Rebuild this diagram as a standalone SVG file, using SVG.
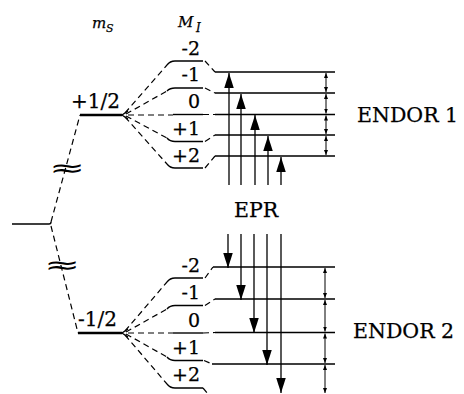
<svg xmlns="http://www.w3.org/2000/svg" width="464" height="394" viewBox="0 0 464 394">
<style>
.lv{stroke:#000;stroke-width:1.4;fill:none}
.th{stroke:#000;stroke-width:2.4;fill:none}
.ds{stroke:#000;stroke-width:1.2;stroke-dasharray:6 4;fill:none}
.ar{stroke:#000;stroke-width:1.3;fill:none}
.dbl{stroke:#000;stroke-width:1;fill:none}
text{font-family:"DejaVu Serif","Liberation Serif",serif;fill:#000;stroke:#000;stroke-width:0.25}
.lab{font-size:19px;text-anchor:end}
.big{font-size:20.5px}
.wave{font-family:"DejaVu Sans",sans-serif;font-size:24px;text-anchor:middle;stroke-width:0}
</style>
<defs>
<marker id="head" markerUnits="userSpaceOnUse" markerWidth="16" markerHeight="10" refX="15" refY="4.75" orient="auto">
<path d="M0,0 L15,4.75 L0,9.5 z" fill="#000"/>
</marker>
<marker id="sm" markerUnits="userSpaceOnUse" markerWidth="6" markerHeight="5" refX="5" refY="2" orient="auto-start-reverse">
<path d="M0,0 L5,2 L0,4 z" fill="#000"/>
</marker>
</defs>

<g id="axis-labels">
<text x="92" y="28" font-size="15" font-style="italic">m</text>
<text x="106" y="32" font-size="11" font-style="italic">S</text>
<text x="178" y="27" font-size="15" font-style="italic">M</text>
<text x="196" y="32" font-size="12" font-style="italic">I</text>
</g>

<g id="origin">
<path class="lv" d="M12,224 L49,224 Q51,224 51,222"/>
</g>

<g id="ms-up">
<text x="71" y="108" font-size="20">+1/2</text>
<path class="th" d="M80,115 L122,115"/>
<path class="lv" d="M128,111 L122,115 L128,119"/>
</g>

<g id="ms-down">
<text x="78" y="326" font-size="20">-1/2</text>
<path class="th" d="M78,333 L122,333"/>
<path class="lv" d="M128,329 L122,333 L128,337"/>
</g>

<g id="connectors">
<path class="ds" d="M51,222 L80,115"/>
<path class="ds" d="M51,226 L78,333"/>
<path class="ds" d="M125,113 L167,65"/>
<path class="ds" d="M126,114 L167,91"/>
<path class="ds" d="M128,115 L173,115"/>
<path class="ds" d="M126,116 L167,138"/>
<path class="ds" d="M125,117 L167,164"/>
<path class="ds" d="M205,61 L215,72"/>
<path class="ds" d="M205,88 L215,93"/>
<path class="ds" d="M203,114.5 L215,114.5"/>
<path class="ds" d="M205,141.5 L215,135"/>
<path class="ds" d="M205,168 L215,156"/>
<path class="ds" d="M125,331 L167,282"/>
<path class="ds" d="M126,332 L167,309"/>
<path class="ds" d="M128,333 L173,333"/>
<path class="ds" d="M126,334 L167,357"/>
<path class="ds" d="M125,335 L167,384"/>
<path class="ds" d="M205,278 L213,267"/>
<path class="ds" d="M205,305.5 L215,299"/>
<path class="ds" d="M203,333 L215,332.5"/>
<path class="ds" d="M204,360.5 L212,364"/>
<path class="ds" d="M203,388 L208,394"/>
</g>

<g id="waves">
<text class="wave" transform="translate(67,176) scale(1.8,1)">≈</text>
<text class="wave" transform="translate(62,273) scale(1.8,1)">≈</text>
</g>

<g id="MI-up">
<text class="lab" x="200" y="55">-2</text>
<path class="lv" d="M167,65 Q170,61 175,61 L203,61"/>
<text class="lab" x="200" y="81">-1</text>
<path class="lv" d="M167,91 Q170,88 175,88 L203,88"/>
<text class="lab" x="200" y="108">0</text>
<path class="lv" d="M173,114.5 L203,114.5"/>
<text class="lab" x="200" y="135">+1</text>
<path class="lv" d="M167,138 Q170,141.5 175,141.5 L203,141.5"/>
<text class="lab" x="200" y="162">+2</text>
<path class="lv" d="M167,164 Q170,168 175,168 L203,168"/>
<path class="lv" d="M215,72 L335,72 M215,93 L335,93 M215,114.5 L335,114.5 M215,135 L335,135 M215,156 L335,156"/>
</g>

<g id="MI-down">
<text class="lab" x="200" y="272">-2</text>
<path class="lv" d="M167,282 Q170,278 175,278 L203,278"/>
<text class="lab" x="200" y="299">-1</text>
<path class="lv" d="M167,309 Q170,305.5 175,305.5 L203,305.5"/>
<text class="lab" x="200" y="327">0</text>
<path class="lv" d="M173,333 L203,333"/>
<text class="lab" x="200" y="354">+1</text>
<path class="lv" d="M167,357 Q170,360.5 175,360.5 L203,360.5"/>
<text class="lab" x="200" y="381">+2</text>
<path class="lv" d="M167,384 Q170,388 175,388 L203,388"/>
<path class="lv" d="M213,267 L335,267 M215,299 L335,299 M215,332.5 L335,332.5 M212,364 L335,364"/>
</g>

<g id="EPR">
<text class="big" x="234" y="217">EPR</text>
<line class="ar" x1="229" y1="185" x2="229" y2="73" marker-end="url(#head)"/>
<line class="ar" x1="241" y1="185" x2="241" y2="94" marker-end="url(#head)"/>
<line class="ar" x1="255" y1="185" x2="255" y2="115" marker-end="url(#head)"/>
<line class="ar" x1="268" y1="185" x2="268" y2="136" marker-end="url(#head)"/>
<line class="ar" x1="281" y1="185" x2="281" y2="157" marker-end="url(#head)"/>
<line class="ar" x1="228" y1="234" x2="228" y2="268" marker-end="url(#head)"/>
<line class="ar" x1="241" y1="234" x2="241" y2="300" marker-end="url(#head)"/>
<line class="ar" x1="254" y1="234" x2="254" y2="333" marker-end="url(#head)"/>
<line class="ar" x1="267" y1="234" x2="267" y2="365" marker-end="url(#head)"/>
<line class="ar" x1="281" y1="234" x2="281" y2="393" marker-end="url(#head)"/>
</g>

<g id="ENDOR1">
<text class="big" x="357" y="122">ENDOR 1</text>
<line class="dbl" x1="326" y1="73" x2="326" y2="92" marker-start="url(#sm)" marker-end="url(#sm)"/>
<line class="dbl" x1="326" y1="94" x2="326" y2="113.5" marker-start="url(#sm)" marker-end="url(#sm)"/>
<line class="dbl" x1="326" y1="115.5" x2="326" y2="134" marker-start="url(#sm)" marker-end="url(#sm)"/>
<line class="dbl" x1="326" y1="136" x2="326" y2="155" marker-start="url(#sm)" marker-end="url(#sm)"/>
</g>

<g id="ENDOR2">
<text class="big" x="353" y="338">ENDOR 2</text>
<line class="dbl" x1="325" y1="268" x2="325" y2="298" marker-start="url(#sm)" marker-end="url(#sm)"/>
<line class="dbl" x1="325" y1="300" x2="325" y2="331.5" marker-start="url(#sm)" marker-end="url(#sm)"/>
<line class="dbl" x1="325" y1="333.5" x2="325" y2="363" marker-start="url(#sm)" marker-end="url(#sm)"/>
<line class="dbl" x1="325" y1="365" x2="325" y2="393" marker-start="url(#sm)" marker-end="url(#sm)"/>
</g>
</svg>
